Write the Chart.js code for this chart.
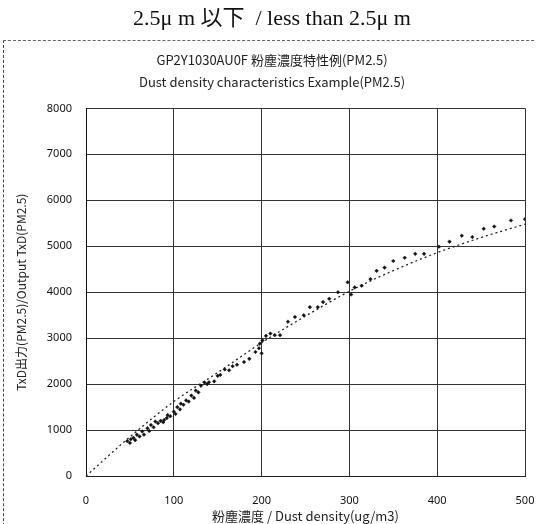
<!DOCTYPE html>
<html>
<head>
<meta charset="utf-8">
<script src="https://cdn.jsdelivr.net/npm/chart.js@4"></script>
<style>
  html, body { margin: 0; padding: 0; background: #fff; }
  #wrap { position: relative; width: 536px; height: 524px; }
  #frame { position: absolute; left: 3px; top: 40px; width: 560px; height: 520px;
           border-top: 1px dashed #666; border-left: 1px dashed #444; pointer-events: none; }
</style>
</head>
<body>
<div id="wrap">
  <canvas id="c" width="536" height="524"></canvas>
  <div id="frame"></div>
</div>
<script>
// Measured points: dust density (ug/m3)
const densityX = [47, 50, 51, 54, 56, 58, 61, 64, 66, 70, 72, 74, 77, 79, 82, 85, 88, 89, 92, 93, 96, 100, 102, 104, 107, 108, 111, 114, 117, 120, 123, 125, 128, 131, 135, 138,
  140, 146, 150, 153, 158, 163, 167, 172, 180, 186, 193, 197, 198, 200, 201, 205, 210, 215, 221, 230, 238, 248, 255, 264, 270, 277, 287, 298, 302, 306, 314, 324, 331, 340, 350, 363, 375, 385, 402, 414, 428, 440, 453, 465, 484, 500];
// Measured points: output TxD (PM2.5)
const outputY = [760, 720, 800, 830, 780, 900, 860, 970, 900, 1040, 980, 1110, 1060, 1185, 1150, 1200, 1170, 1220, 1260, 1325, 1300, 1400, 1350, 1500, 1450, 1575, 1550, 1645, 1620, 1750, 1700, 1860, 1820, 1965, 2035, 2000,
  2040, 2060, 2180, 2200, 2320, 2300, 2390, 2420, 2480, 2550, 2700, 2780, 2880, 2670, 2950, 3050, 3100, 3065, 3065, 3357, 3460, 3500, 3675, 3675, 3785, 3856, 4000, 4215, 3950, 4105, 4140, 4285, 4465, 4535, 4680, 4750, 4835, 4835, 4990, 5100, 5230, 5200, 5380, 5430, 5560, 5590];
// Trend line
const trendX = [0, 50, 100, 150, 200, 250, 300, 350, 400, 450, 500];
const trendY = [0, 850, 1620, 2250, 2900, 3480, 4020, 4470, 4860, 5190, 5480];

const xTicks = [0, 100, 200, 300, 400, 500];
const yTicks = [0, 1000, 2000, 3000, 4000, 5000, 6000, 7000, 8000];

const pageTitle = '2.5\u03BC m 以下  / less than 2.5\u03BC m';
const chartTitle = ['GP2Y1030AU0F 粉塵濃度特性例(PM2.5)', 'Dust density characteristics Example(PM2.5)'];
const xTitle = '粉塵濃度 / Dust density(ug/m3)';
const yTitle = 'TxD出力(PM2.5)/Output TxD(PM2.5)';

const points = densityX.map((x, i) => ({ x: x, y: outputY[i] }));
const trend = trendX.map((x, i) => ({ x: x, y: trendY[i] }));

const tickFont = { family: "'Noto Sans', 'Noto Sans CJK JP', sans-serif", size: 11 };
const cjkFont = "'Noto Sans CJK JP', 'Noto Sans', sans-serif";

new Chart(document.getElementById('c'), {
  type: 'scatter',
  data: {
    datasets: [
      { label: 'data', data: points, backgroundColor: '#111', borderColor: '#111',
        pointStyle: 'rectRot', pointRadius: 1.8, borderWidth: 0.5, showLine: false },
      { label: 'trend', data: trend, showLine: true, borderColor: '#222', borderWidth: 1.3,
        borderDash: [2, 3], pointRadius: 0, fill: false, cubicInterpolationMode: 'monotone' }
    ]
  },
  options: {
    responsive: false,
    animation: false,
    layout: { padding: { left: 8, right: 0, top: 0, bottom: 0 } },
    plugins: {
      legend: { display: false },
      tooltip: { enabled: false },
      title: { display: true, text: pageTitle, color: '#111',
        font: { family: "'Liberation Serif', 'Noto Sans CJK JP', serif", size: 22, weight: 'normal' },
        padding: { top: 6, bottom: 0 } },
      subtitle: { display: true, text: chartTitle, color: '#222',
        font: { family: cjkFont, size: 13, lineHeight: '22px' },
        padding: { top: 17, bottom: 15 } }
    },
    scales: {
      x: {
        type: 'linear', min: 0, max: 500,
        afterBuildTicks: (s) => { s.ticks = xTicks.map(v => ({ value: v })); },
        afterFit: (s) => { s.height = 48; s.paddingRight = 11; s.paddingLeft = 0; },
        ticks: { font: tickFont, color: '#111', padding: 18, callback: (v) => String(v) },
        grid: { color: '#333', lineWidth: 1, drawTicks: false },
        border: { display: true, color: '#222' },
        title: { display: true, text: xTitle, color: '#222',
          font: { family: cjkFont, size: 13 }, padding: { top: 0, bottom: 0 } }
      },
      y: {
        type: 'linear', min: 0, max: 8000,
        afterBuildTicks: (s) => { s.ticks = yTicks.map(v => ({ value: v })); },
        afterFit: (s) => { s.width = 78; },
        ticks: { font: tickFont, color: '#111', padding: 14, callback: (v) => String(v) },
        grid: { color: '#333', lineWidth: 1, drawTicks: false },
        border: { display: true, color: '#111' },
        title: { display: true, text: yTitle, color: '#222',
          font: { family: cjkFont, size: 12 }, padding: { top: 6, bottom: 0 } }
      }
    }
  }
});
</script>
</body>
</html>
